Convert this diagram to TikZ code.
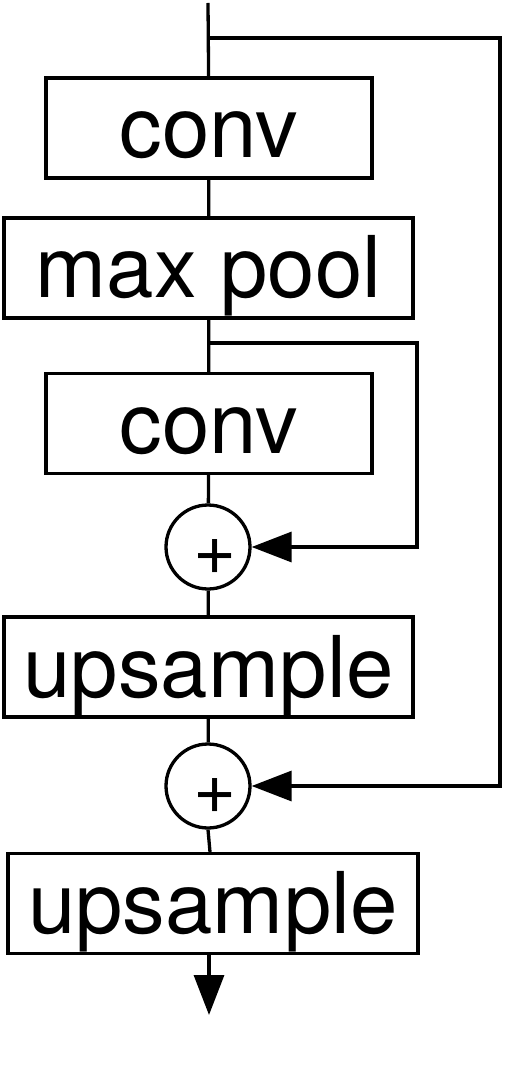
\documentclass[tikz,border=0pt]{standalone}
\usepackage{fontspec}
\setmainfont{TeX Gyre Heros}
\usetikzlibrary{arrows.meta}
\tikzset{
  layer box/.style={
    draw,
    line width=0.066cm,
    inner sep=0pt,
    minimum height=2cm,
    text height=1.5cm,
    text depth=0.3cm,
    font=\fontsize{48.5}{50}\selectfont
  },
  sum node/.style={
    draw,
    circle,
    line width=0.066cm,
    inner sep=0pt,
    minimum size=1.68cm,
    text height=1.1cm,
    text depth=0cm,
    font=\fontsize{42}{44}\selectfont
  },
  link/.style={
    line width=0.066cm
  },
  flow/.style={
    -{Triangle[length=0.8cm, width=0.6cm]},
    line width=0.066cm
  }
}
\begin{document}
\begin{tikzpicture}[x=0.02cm, y=-0.02cm]

  %% ---- frame ----
  \useasboundingbox (0,0) rectangle (508,1074);

  %% ---- layers ----
  \node[layer box, minimum width=6.52cm] (conv1) at (209,128) {conv};
  \node[layer box, minimum width=8.18cm] (pool)  at (208.5,268) {max pool};
  \node[layer box, minimum width=6.52cm] (conv2) at (209,423.5) {conv};
  \node[sum node] (add1) at (208,547) {\hspace*{0.28cm}+};
  \node[layer box, minimum width=8.18cm] (up1)   at (208.5,667) {upsample};
  \node[sum node] (add2) at (208,786) {\hspace*{0.28cm}+};
  \node[layer box, minimum width=8.2cm]  (up2)   at (213,903.5) {upsample};

  %% ---- in / out and split points ----
  \coordinate (in)     at (208,3);
  \coordinate (split1) at (208,38);
  \coordinate (split2) at (208,343);
  \coordinate (out)    at (209,1015);

  %% ---- main path ----
  \draw[link] (in) -- (conv1);
  \draw[link] (conv1) -- (pool);
  \draw[link] (pool) -- (conv2);
  \draw[link] (conv2) -- (add1);
  \draw[link] (add1) -- (up1);
  \draw[link] (up1) -- (add2);
  \draw[link] (add2.south) -- (up2.north -| 210,0);
  \draw[flow] (up2.south -| 209,0) -- (out);

  %% ---- skip connections ----
  \draw[flow] (split1) -- (500,38) |- (add2);
  \draw[flow] (split2) -- (417,343) |- (add1);

\end{tikzpicture}
\end{document}
